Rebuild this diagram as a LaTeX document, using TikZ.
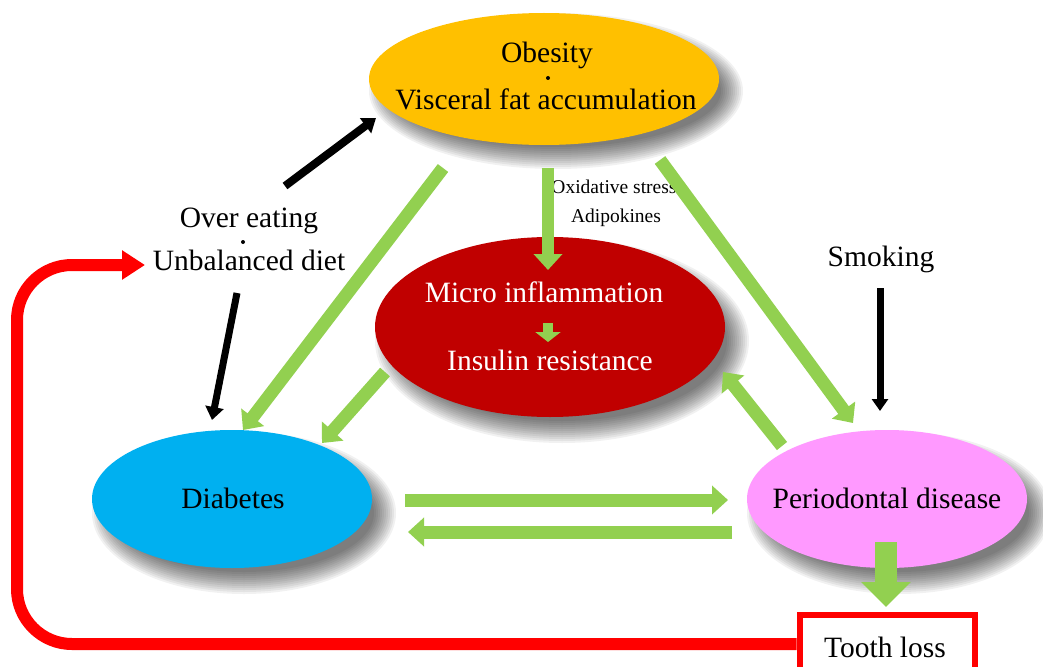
\documentclass[tikz,border=0pt]{standalone}
\usepackage{fontspec}
\setmainfont{Liberation Serif}
\usetikzlibrary{arrows.meta,shapes.geometric}
\definecolor{obc}{HTML}{FFC000}
\definecolor{infl}{HTML}{C00000}
\definecolor{diac}{HTML}{00B0F0}
\definecolor{perc}{HTML}{FF99FF}
\definecolor{grn}{HTML}{92D050}
\definecolor{redl}{HTML}{FF0000}
\newcommand{\myblur}[4]{%
  \foreach \i in {0,...,11}{%
    \fill[black,opacity=0.055] (#1,#2) ellipse [x radius={#3+12-2*\i}, y radius={#4+12-2*\i}];}}
\tikzset{
  ell/.style={ellipse, inner sep=0pt, draw=none},
  txt/.style={font=\fontsize{29.5}{34}\selectfont, anchor=base, inner sep=0pt},
  smalltxt/.style={font=\fontsize{19.5}{22}\selectfont, anchor=base, inner sep=0pt},
  garrow/.style={draw=grn, line width=13pt, -{Triangle[width=28pt,length=16pt]}},
  karrow/.style={draw=black, line width=7pt, -{Triangle[width=18pt,length=13pt]}},
  rarrow/.style={draw=redl, line width=12pt, rounded corners=55pt, -{Triangle[width=28pt,length=23pt]}},
}
\begin{document}
\begin{tikzpicture}[x=1pt,y=-1pt]
\clip (0,0) rectangle (1043,666);
\fill[white] (0,0) rectangle (1043,666);

% shadows
\myblur{556}{91}{175}{66}
\myblur{562}{341}{175}{90}
\myblur{244}{513}{140}{69}
\myblur{899}{513}{140}{69}

% ellipses
\node[ell, fill=obc, minimum width=350pt, minimum height=132pt] (ob) at (544,79) {};
\node[ell, fill=infl, minimum width=350pt, minimum height=180pt] (mi) at (550,327) {};
\node[ell, fill=diac, minimum width=280pt, minimum height=138pt] (dia) at (232,499) {};
\node[ell, fill=perc, minimum width=280pt, minimum height=138pt] (per) at (887,499) {};
\node[draw=redl, line width=6pt, minimum width=175pt, minimum height=58pt, inner sep=0pt] (tooth) at (887,644) {};

% texts
\node[txt] (obt1) at (547,63) {Obesity};
\fill (548,78) circle (2);
\node[txt] (obt2) at (546,110) {Visceral fat accumulation};
\node[txt, text=white] (mit1) at (544,302) {Micro inflammation};
\node[txt, text=white] (mit2) at (550,370) {Insulin resistance};
\node[txt] (diat) at (233,508) {Diabetes};
\node[txt] (pert) at (887,508) {Periodontal disease};
\node[txt] (toot) at (885,657) {Tooth loss};
\node[txt] (ov1) at (249,227) {Over eating};
\fill (243,242) circle (2);
\node[txt] (ov2) at (249,270) {Unbalanced diet};
\node[txt] (smk) at (881,266) {Smoking};
\node[smalltxt] (ox1) at (614,193) {Oxidative stress};
\node[smalltxt] (ox2) at (616,222) {Adipokines};

% coordinates
\coordinate (a1s) at (443,168); \coordinate (a1e) at (243,430);
\coordinate (a2s) at (548,168); \coordinate (a2e) at (548,270);
\coordinate (a3s) at (660,160); \coordinate (a3e) at (853,423);
\coordinate (a4s) at (385,372); \coordinate (a4e) at (322,443);
\coordinate (a5s) at (782,446); \coordinate (a5e) at (723,372);
\coordinate (a6s) at (405,500); \coordinate (a6e) at (728,500);
\coordinate (a7s) at (732,532); \coordinate (a7e) at (408,532);
\coordinate (a8s) at (886,542); \coordinate (a8e) at (886,607);
\coordinate (a9s) at (548,323); \coordinate (a9e) at (548,342);
\coordinate (k1s) at (285,186); \coordinate (k1e) at (376,118);
\coordinate (k2s) at (237,293); \coordinate (k2e) at (212,420);
\coordinate (k3s) at (880,288); \coordinate (k3e) at (880,411);
\coordinate (rc1) at (17,644); \coordinate (rc2) at (17,265);
\coordinate (rte) at (145,265);

% green arrows
\draw[garrow] (a1s) -- (a1e);
\draw[garrow, line width=12pt] (a2s) -- (a2e);
\draw[garrow] (a3s) -- (a3e);
\draw[garrow] (a4s) -- (a4e);
\draw[garrow] (a5s) -- (a5e);
\draw[garrow] (a6s) -- (a6e);
\draw[garrow] (a7s) -- (a7e);
\draw[draw=grn, line width=22pt, -{Triangle[width=48pt,length=25pt]}] (a8s) -- (a8e);
\draw[draw=grn, line width=10pt, -{Triangle[width=25pt,length=10pt]}] (a9s) -- (a9e);

% black arrows
\draw[karrow, line width=8pt] (k1s) -- (k1e);
\draw[karrow] (k2s) -- (k2e);
\draw[karrow, -{Triangle[width=16pt,length=12pt]}] (k3s) -- (k3e);

% red loop
\draw[rarrow] (tooth.west) -- (rc1) -- (rc2) -- (rte);
\end{tikzpicture}
\end{document}
